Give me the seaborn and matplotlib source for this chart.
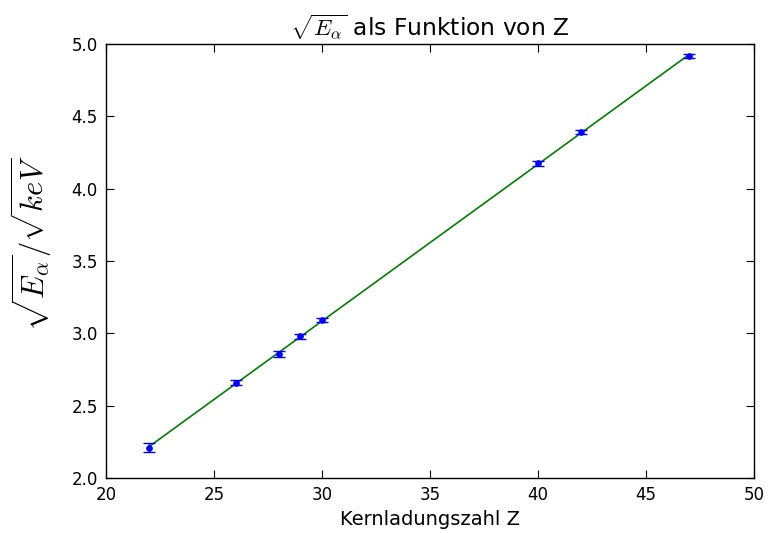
import numpy as np
import pandas as pd
import matplotlib
matplotlib.use("Agg")
import matplotlib.pyplot as plt
import seaborn as sns

# Kernladungszahl und Wurzel der K-alpha-Energie
Z = [22, 26, 28, 29, 30, 40, 42, 47]
sqrt_E = [2.21, 2.66, 2.857, 2.98, 3.09, 4.175, 4.39, 4.918]
sqrt_E_err = [0.03, 0.02, 0.02, 0.018, 0.015, 0.015, 0.015, 0.015]

xticks = [20, 25, 30, 35, 40, 45, 50]
yticks = [2.0, 2.5, 3.0, 3.5, 4.0, 4.5, 5.0]

sns.set_style("ticks")
plt.rcParams.update({
    "font.family": ["DejaVu Sans"],
    "font.size": 14,
    "mathtext.fontset": "cm",
    "text.color": "black",
    "axes.labelcolor": "black",
    "xtick.direction": "in",
    "ytick.direction": "in",
    "xtick.top": True,
    "ytick.right": True,
    "xtick.major.size": 6,
    "ytick.major.size": 6,
    "axes.linewidth": 1.0,
    "axes.edgecolor": "black",
    "xtick.color": "black",
    "ytick.color": "black",
})

df = pd.DataFrame({"Z": Z, "E": sqrt_E, "err": sqrt_E_err})

# lineare Regression
m, b = np.polyfit(df["Z"], df["E"], 1)
fit = pd.DataFrame({"Z": [min(Z), max(Z)]})
fit["E"] = m * fit["Z"] + b

fig = plt.figure(figsize=(7.72, 5.33), dpi=100)
ax = fig.add_axes([106 / 772, 1 - 478 / 533, (754 - 106) / 772, (478 - 44) / 533])

sns.lineplot(data=fit, x="Z", y="E", color=(0, 0.5, 0), linewidth=1.2, ax=ax)
ax.errorbar(df["Z"], df["E"], yerr=df["err"], fmt="none", ecolor="blue",
            elinewidth=1.0, capsize=4, capthick=1.0, zorder=3)
sns.scatterplot(data=df, x="Z", y="E", color="blue", s=18, edgecolor="blue",
                linewidth=0.5, zorder=4, ax=ax)

ax.set_xlim(20, 50)
ax.set_ylim(2.0, 5.0)
ax.set_xticks(xticks)
ax.set_yticks(yticks)
ax.set_xticklabels([str(t) for t in xticks])
ax.set_yticklabels([f"{t:.1f}" for t in yticks])
ax.tick_params(labelsize=12, pad=6)

ax.set_xlabel("Kernladungszahl Z", fontsize=14, color="black")
ax.set_ylabel(r"$\sqrt{E_\alpha}/\sqrt{keV}$", fontsize=22, color="black")
ax.yaxis.set_label_coords(-0.08, 0.54)
ax.set_title(r"$\sqrt{E_\alpha}$ als Funktion von Z", fontsize=16.8,
             color="black", pad=6)

fig.savefig("out.png", dpi=100, facecolor="white")
